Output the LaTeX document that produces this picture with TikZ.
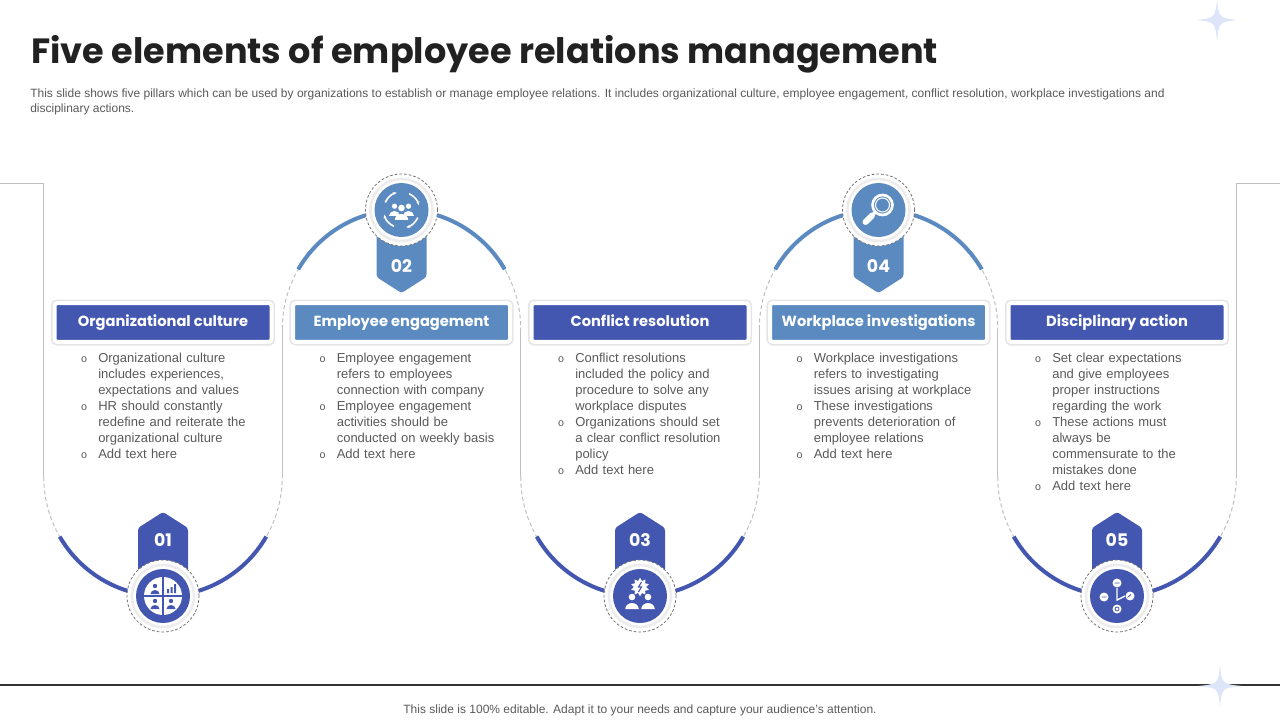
\documentclass[tikz,border=0pt]{standalone}
\usepackage{fontspec}
\setmainfont{Liberation Sans}
\newfontfamily\popfont{Poppins}
\usepackage{tikz}
\usetikzlibrary{shapes.geometric, arrows.meta}

\definecolor{navy}{RGB}{67,87,176}
\definecolor{steel}{RGB}{90,138,192}
\definecolor{linegray}{RGB}{191,191,191}
\definecolor{txtgray}{RGB}{89,89,89}
\definecolor{starblue}{RGB}{220,230,248}

\newcommand{\nl}{\hfil\break}
\newcommand{\bitem}[1]{\par\hangindent=13.5pt\hangafter=1\noindent\makebox[13.5pt][l]{\hspace{0.6pt}\fontsize{8}{8}\selectfont o}#1}

\begin{document}
\begin{tikzpicture}[x=0.75pt, y=-0.75pt,
  head/.style={rounded corners=2pt, minimum width=162.75pt, minimum height=29pt, inner sep=0, text height=8pt, text depth=2.5pt, draw=white, line width=3pt, preaction={draw=black!10, line width=5.5pt}, text=white, font=\popfont\bfseries\fontsize{11}{13}\selectfont},
  bul/.style={anchor=north west, inner sep=0, text width=150pt, text=txtgray, font=\fontsize{9.75}{12}\selectfont},
  num/.style={text=white, inner sep=0, font=\popfont\bfseries\fontsize{13}{15}\selectfont},
  ring/.style={circle, fill=white, draw=black!55, dash pattern=on 2pt off 1.5pt, line width=0.6pt, minimum size=54pt, inner sep=0},
  disc/.style={circle, minimum size=40.5pt, inner sep=0},
  trail/.style={draw=linegray, line width=0.75pt},
  man/.pic={\fill (0,-4) circle (2.2); \fill (-4.5,4) arc[start angle=180, end angle=360, x radius=4.5, y radius=4] -- cycle;}
]
\useasboundingbox (0,0) rectangle (1280,720);

% stars
\fill[starblue] (1217,0) .. controls (1219,18) .. (1238,20) .. controls (1219,22) .. (1217,41) .. controls (1215,22) .. (1196,20) .. controls (1215,18) .. cycle;
\draw[black!80, line width=1.1pt] (0,685) -- (1280,685);
\fill[starblue] (1220,665) .. controls (1222,684) .. (1242,686) .. controls (1222,688) .. (1220,707) .. controls (1218,688) .. (1198,686) .. controls (1218,684) .. cycle;

% title and notes
\node[anchor=base west, inner sep=0, text=black!87, font=\popfont\bfseries\fontsize{26.3}{30}\selectfont] (title) at (31,64) {Five elements of employee relations management};
\node[anchor=north west, inner sep=0, align=left, text=txtgray, font=\fontsize{9}{11.25}\selectfont] (desc) at (30,89) {This slide shows five pillars which can be used by organizations to establish or manage employee relations. It includes organizational culture, employee engagement, conflict resolution, workplace investigations and\\disciplinary actions.};
\node[text=txtgray, font=\fontsize{9}{10}\selectfont] (foot) at (640,710) {This slide is 100\% editable. Adapt it to your needs and capture your audience's attention.};

% gray trail
\draw[trail] (0,184) -- (43.75,184) -- (43.75,477);
\draw[trail, dash pattern=on 3pt off 2pt] (43.75,477) arc[start angle=180, end angle=0, radius=119.25];
\draw[trail] (282.25,477) -- (282.25,329);
\draw[trail, dash pattern=on 3pt off 2pt] (282.25,329) arc[start angle=180, end angle=360, radius=119.25];
\draw[trail] (520.75,329) -- (520.75,477);
\draw[trail, dash pattern=on 3pt off 2pt] (520.75,477) arc[start angle=180, end angle=0, radius=119.25];
\draw[trail] (759.25,477) -- (759.25,329);
\draw[trail, dash pattern=on 3pt off 2pt] (759.25,329) arc[start angle=180, end angle=360, radius=119.25];
\draw[trail] (997.75,329) -- (997.75,477);
\draw[trail, dash pattern=on 3pt off 2pt] (997.75,477) arc[start angle=180, end angle=0, radius=119.25];
\draw[trail] (1236.25,477) -- (1236.25,184) -- (1280,184);

% colored arcs
\draw[navy, line width=3pt] (163,477) ++(150:119.25) arc[start angle=150, end angle=30, radius=119.25];
\draw[steel, line width=3pt] (401.5,329) ++(210:119.25) arc[start angle=210, end angle=330, radius=119.25];
\draw[navy, line width=3pt] (640,477) ++(150:119.25) arc[start angle=150, end angle=30, radius=119.25];
\draw[steel, line width=3pt] (878.5,329) ++(210:119.25) arc[start angle=210, end angle=330, radius=119.25];
\draw[navy, line width=3pt] (1117,477) ++(150:119.25) arc[start angle=150, end angle=30, radius=119.25];

% badges
\fill[navy, rounded corners=2pt] (138,575) -- (138,528) -- (163,512) -- (188,528) -- (188,575) -- cycle;
\fill[steel, rounded corners=2pt] (376.5,225) -- (376.5,277) -- (401.5,293) -- (426.5,277) -- (426.5,225) -- cycle;
\fill[navy, rounded corners=2pt] (615,575) -- (615,528) -- (640,512) -- (665,528) -- (665,575) -- cycle;
\fill[steel, rounded corners=2pt] (853.5,225) -- (853.5,277) -- (878.5,293) -- (903.5,277) -- (903.5,225) -- cycle;
\fill[navy, rounded corners=2pt] (1092,575) -- (1092,528) -- (1117,512) -- (1142,528) -- (1142,575) -- cycle;
\node[num] (n1) at (163,540) {01};
\node[num] (n2) at (401.5,266) {02};
\node[num] (n3) at (640,540) {03};
\node[num] (n4) at (878.5,266) {04};
\node[num] (n5) at (1117,540) {05};

% icon circles
\node[ring] (c1) at (163,596) {};
\node[ring] (c2) at (401.5,210) {};
\node[ring] (c3) at (640,596) {};
\node[ring] (c4) at (878.5,210) {};
\node[ring] (c5) at (1117,596) {};
\draw[black!7, line width=2pt] (c1) circle (31) (c2) circle (31) (c3) circle (31) (c4) circle (31) (c5) circle (31);
\node[disc, fill=navy] (d1) at (c1) {};
\node[disc, fill=steel] (d2) at (c2) {};
\node[disc, fill=navy] (d3) at (c3) {};
\node[disc, fill=steel] (d4) at (c4) {};
\node[disc, fill=navy] (d5) at (c5) {};

% icon 1
\begin{scope}[shift={(d1.center)}]
  \fill[white] (0,0) circle (19);
  \draw[navy, line width=1pt] (-19,0) -- (19,0) (0,-19) -- (0,19);
  \pic[navy] at (-8,-6) {man};
  \pic[navy] at (-8,9) {man};
  \pic[navy] at (8,9) {man};
  \fill[navy] (4,-3) rectangle (6,-7) (7.5,-3) rectangle (9.5,-9) (11,-3) rectangle (13,-12);
\end{scope}
% icon 2
\begin{scope}[shift={(d2.center)}]
  \pic[white, scale=1.2] at (-7,1) {man};
  \pic[white, scale=1.2] at (7,1) {man};
  \pic[white, scale=1.5] at (0,4) {man};
  \draw[white, line width=1.2pt, -{Stealth[length=3pt]}] (25:18) arc[start angle=25, end angle=75, radius=18];
  \draw[white, line width=1.2pt, -{Stealth[length=3pt]}] (115:18) arc[start angle=115, end angle=165, radius=18];
  \draw[white, line width=1.2pt, -{Stealth[length=3pt]}] (205:18) arc[start angle=205, end angle=255, radius=18];
  \draw[white, line width=1.2pt, -{Stealth[length=3pt]}] (295:18) arc[start angle=295, end angle=345, radius=18];
\end{scope}
% icon 3
\begin{scope}[shift={(d3.center)}]
  \node[star, star points=10, star point ratio=1.5, fill=white, minimum size=14pt, inner sep=0] (burst) at (0,-9) {};
  \draw[navy, line width=0.8pt] (1.5,-14) -- (-1.5,-9) -- (1.5,-9) -- (-1.5,-4);
  \pic[white, scale=1.5] at (-8,7) {man};
  \pic[white, scale=1.5] at (8,7) {man};
\end{scope}
% icon 4
\begin{scope}[shift={(d4.center)}]
  \draw[white, line width=2pt] (4,-5) circle (10);
  \draw[white, line width=0.8pt] (4,-5) circle (7);
  \draw[white, line width=2.5pt] (-3,2) -- (-6.5,5.5);
  \draw[white, line width=4.5pt, line cap=round] (-6.5,5.5) -- (-13,12);
\end{scope}
% icon 5
\begin{scope}[shift={(d5.center)}]
  \fill[white] (0,-13) circle (4.5) (-13,1) circle (4.5) (13,0) circle (4.5) (0,13) circle (4.5);
  \draw[white, line width=1pt] (0,-8) -- (0,4) -- (8,0);
  \draw[navy, line width=0.6pt] (-2.5,-13) -- (2.5,-13) (-15.5,1) -- (-10.5,1) (10.5,1.5) -- (14,-1.5);
  \draw[navy, line width=0.6pt] (0,13) circle (2);
\end{scope}

% headers
\node[head, fill=navy] (h1) at (163,322.5) {Organizational culture};
\node[head, fill=steel] (h2) at (401.5,322.5) {Employee engagement};
\node[head, fill=navy] (h3) at (640,322.5) {Conflict resolution};
\node[head, fill=steel] (h4) at (878.5,322.5) {Workplace investigations};
\node[head, fill=navy] (h5) at (1117,322.5) {Disciplinary action};

% bullet text
\node[bul] (b1) at (80,346) {\bitem{Organizational culture\nl includes experiences,\nl expectations and values}\bitem{HR should constantly\nl redefine and reiterate the\nl organizational culture}\bitem{Add text here}};
\node[bul] (b2) at (318.5,346) {\bitem{Employee engagement\nl refers to employees\nl connection with company}\bitem{Employee engagement\nl activities should be\nl conducted on weekly basis}\bitem{Add text here}};
\node[bul] (b3) at (557,346) {\bitem{Conflict resolutions\nl included the policy and\nl procedure to solve any\nl workplace disputes}\bitem{Organizations should set\nl a clear conflict resolution\nl policy}\bitem{Add text here}};
\node[bul] (b4) at (795.5,346) {\bitem{Workplace investigations\nl refers to investigating\nl issues arising at workplace}\bitem{These investigations\nl prevents deterioration of\nl employee relations}\bitem{Add text here}};
\node[bul] (b5) at (1034,346) {\bitem{Set clear expectations\nl and give employees\nl proper instructions\nl regarding the work}\bitem{These actions must\nl always be\nl commensurate to the\nl mistakes done}\bitem{Add text here}};
\end{tikzpicture}
\end{document}
